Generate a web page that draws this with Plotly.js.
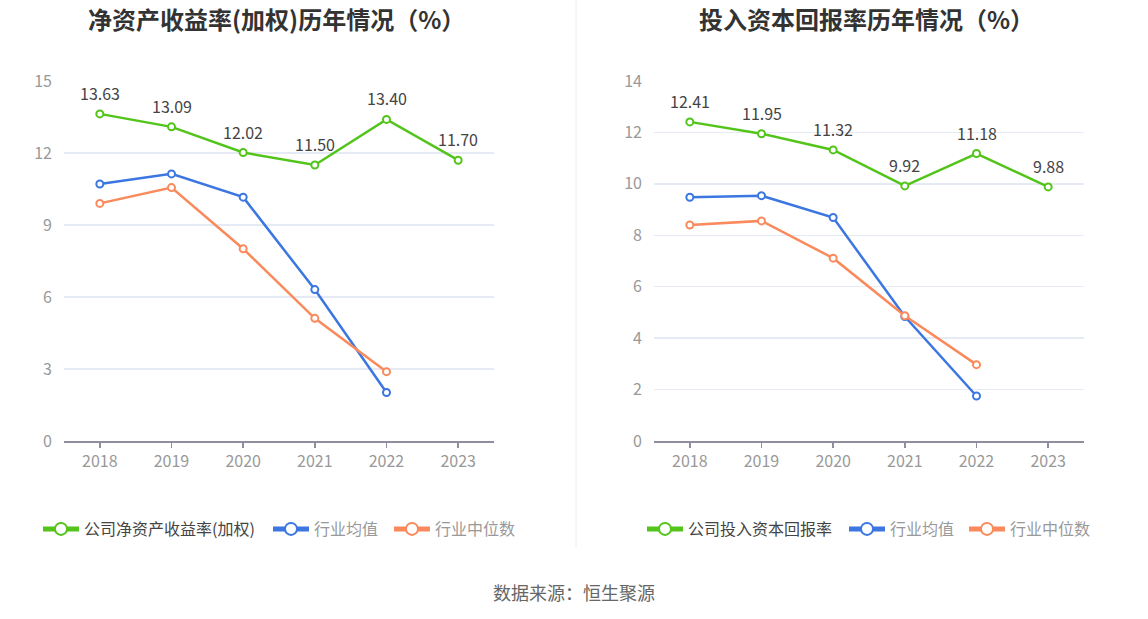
<!DOCTYPE html>
<html>
<head>
<meta charset="utf-8">
<script src="https://cdn.plot.ly/plotly-3.0.1.min.js"></script>
<style>
html,body{margin:0;padding:0;background:#fff;}
#chart{width:1148px;height:619px;}
</style>
</head>
<body>
<div id="chart"></div>
<script>
const years = ['2018','2019','2020','2021','2022','2023'];

// Left chart: ROE (weighted)
const roeCompany = [13.63, 13.09, 12.02, 11.50, 13.40, 11.70];
const roeIndustryAvg = [10.71, 11.13, 10.16, 6.31, 2.02, null];
const roeIndustryMedian = [9.90, 10.56, 8.01, 5.11, 2.89, null];

// Right chart: ROIC
const roicCompany = [12.41, 11.95, 11.32, 9.92, 11.18, 9.88];
const roicIndustryAvg = [9.48, 9.54, 8.69, 4.84, 1.75, null];
const roicIndustryMedian = [8.40, 8.56, 7.11, 4.87, 2.97, null];

const leftTitle = '净资产收益率(加权)历年情况（%）';
const rightTitle = '投入资本回报率历年情况（%）';
const leftCompanyName = '公司净资产收益率(加权)';
const rightCompanyName = '公司投入资本回报率';
const avgName = '行业均值';
const medianName = '行业中位数';
const sourceText = '数据来源：恒生聚源';

const GREEN = '#52c41a';
const BLUE = '#3b76e1';
const ORANGE = '#fa8a5c';
const FONT = '"Noto Sans CJK SC", "Noto Sans", sans-serif';

function lineTrace(y, name, color, xa, ya, legend) {
  return {
    x: years, y: y, name: name, type: 'scatter',
    mode: 'lines+markers',
    xaxis: xa, yaxis: ya, legend: legend,
    line: {color: color, width: 2.5},
    marker: {symbol: 'circle', size: 7, color: '#ffffff', line: {width: 2, color: color}},
    hoverinfo: 'x+y', cliponaxis: false
  };
}

const data = [
  lineTrace(roeCompany, leftCompanyName, GREEN, 'x', 'y', 'legend'),
  lineTrace(roeIndustryAvg, avgName, BLUE, 'x', 'y', 'legend2'),
  lineTrace(roeIndustryMedian, medianName, ORANGE, 'x', 'y', 'legend3'),
  lineTrace(roicCompany, rightCompanyName, GREEN, 'x2', 'y2', 'legend4'),
  lineTrace(roicIndustryAvg, avgName, BLUE, 'x2', 'y2', 'legend5'),
  lineTrace(roicIndustryMedian, medianName, ORANGE, 'x2', 'y2', 'legend6')
];

// value labels: x given as category index on the category axis
function valueLabels(values, xa, ya) {
  return values.map((v, i) => ({
    x: i, y: v, xref: xa, yref: ya,
    text: v.toFixed(2), showarrow: false, yshift: 21,
    xanchor: 'center', yanchor: 'middle',
    font: {family: FONT, size: 16, color: '#444'}
  }));
}

const W = 1148, H = 619;
const xAxisBase = {
  type: 'category', range: [-0.5, 5.5], fixedrange: true,
  showgrid: false, zeroline: false,
  showline: true, linecolor: '#8e8e9c', linewidth: 1.5,
  ticks: 'outside', ticklen: 5, tickcolor: '#8e8e9c', tickwidth: 1.5,
  tickfont: {family: FONT, size: 16, color: '#999'}
};
const yAxisBase = {
  fixedrange: true, showline: false, zeroline: false,
  showgrid: true, gridcolor: '#e6eaf4', gridwidth: 1.5,
  ticks: '', tickfont: {family: FONT, size: 16, color: '#999'},
  ticklabelstandoff: 11
};

function legendAt(xpx, dark) {
  return {
    x: xpx / W, y: 1 - 529 / H, xanchor: 'left', yanchor: 'middle',
    orientation: 'h', bgcolor: 'rgba(0,0,0,0)',
    font: {family: FONT, size: 16, color: dark ? '#444' : '#999'},
    itemwidth: 36, itemsizing: 'constant', tracegroupgap: 0
  };
}

const layout = {
  width: W, height: H,
  margin: {l: 0, r: 0, t: 0, b: 0},
  paper_bgcolor: '#fff', plot_bgcolor: '#fff',
  showlegend: true,
  xaxis: Object.assign({}, xAxisBase, {domain: [64 / W, 494 / W], anchor: 'y'}),
  yaxis: Object.assign({}, yAxisBase, {domain: [1 - 441 / H, 1 - 81 / H], range: [0, 15], dtick: 3, tick0: 0, anchor: 'x'}),
  xaxis2: Object.assign({}, xAxisBase, {domain: [654 / W, 1084 / W], anchor: 'y2'}),
  yaxis2: Object.assign({}, yAxisBase, {domain: [1 - 441 / H, 1 - 81 / H], range: [0, 14], dtick: 2, tick0: 0, anchor: 'x2'}),
  legend: legendAt(38, true),
  legend2: legendAt(268, false),
  legend3: legendAt(389, false),
  legend4: legendAt(642, true),
  legend5: legendAt(844, false),
  legend6: legendAt(964, false),
  shapes: [
    {type: 'line', xref: 'paper', yref: 'paper', x0: 576 / W, x1: 576 / W, y0: 1 - 548 / H, y1: 1,
     line: {color: '#eeeeee', width: 1}}
  ],
  annotations: [
    {text: leftTitle, xref: 'paper', yref: 'paper', x: 276 / W, y: 1 - 18 / H, xanchor: 'center', yanchor: 'middle',
     showarrow: false, font: {family: FONT, size: 24, color: '#333', weight: 'bold'}},
    {text: rightTitle, xref: 'paper', yref: 'paper', x: 866 / W, y: 1 - 18 / H, xanchor: 'center', yanchor: 'middle',
     showarrow: false, font: {family: FONT, size: 24, color: '#333', weight: 'bold'}},
    {text: sourceText, xref: 'paper', yref: 'paper', x: 574 / W, y: 1 - 592 / H, xanchor: 'center', yanchor: 'middle',
     showarrow: false, font: {family: FONT, size: 18, color: '#666'}}
  ].concat(valueLabels(roeCompany, 'x', 'y'), valueLabels(roicCompany, 'x2', 'y2'))
};

Plotly.newPlot('chart', data, layout, {displayModeBar: false, staticPlot: true});
</script>
</body>
</html>
